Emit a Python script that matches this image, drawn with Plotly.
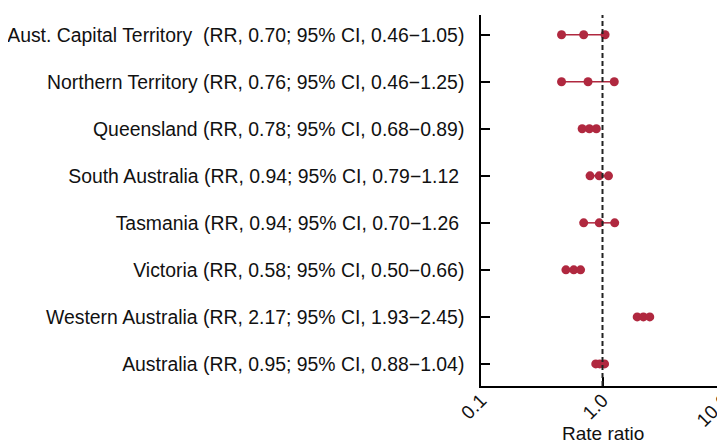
import plotly.graph_objects as go

labels = [
    "Aust. Capital Territory  (RR, 0.70; 95% CI, 0.46\u22121.05)",
    "Northern Territory (RR, 0.76; 95% CI, 0.46\u22121.25)",
    "Queensland (RR, 0.78; 95% CI, 0.68\u22120.89)",
    "South Australia (RR, 0.94; 95% CI, 0.79\u22121.12\u00a0",
    "Tasmania (RR, 0.94; 95% CI, 0.70\u22121.26\u00a0",
    "Victoria (RR, 0.58; 95% CI, 0.50\u22120.66)",
    "Western Australia (RR, 2.17; 95% CI, 1.93\u22122.45)",
    "Australia (RR, 0.95; 95% CI, 0.88\u22121.04)",
]
rr = [0.70, 0.76, 0.78, 0.94, 0.94, 0.58, 2.17, 0.95]
ci_low = [0.46, 0.46, 0.68, 0.79, 0.70, 0.50, 1.93, 0.88]
ci_high = [1.05, 1.25, 0.89, 1.12, 1.26, 0.66, 2.45, 1.04]

x_tickvals = [0.1, 1, 10]
x_ticktext = ["0.1", "1.0", "10.0"]
x_title = "Rate ratio"

color = "#B0283F"
fig = go.Figure()
for lab, lo, r, hi in zip(labels, ci_low, rr, ci_high):
    fig.add_trace(go.Scatter(
        x=[lo, r, hi], y=[lab] * 3, mode="lines+markers",
        line=dict(color=color, width=1.5),
        marker=dict(color=color, size=9),
        showlegend=False, hoverinfo="skip",
    ))

fig.add_shape(type="line", x0=1, x1=1, y0=0, y1=1, xref="x", yref="paper",
              line=dict(color="#222222", width=2, dash="5px,3px"))

font = dict(family="Liberation Sans, Arial, sans-serif", size=19, color="#111111")
fig.add_annotation(text=x_title, xref="paper", x=0.5, yref="paper", y=0,
                   xanchor="center", yanchor="middle", yshift=-47,
                   showarrow=False, font=font)
fig.update_layout(
    width=717, height=433,
    margin=dict(l=473, r=1, t=7, b=55, autoexpand=False),
    plot_bgcolor="white", paper_bgcolor="white",
    font=font,
    xaxis=dict(
        type="log", range=[-1, 1], tickvals=x_tickvals, ticktext=x_ticktext,
        tickangle=-45, ticks="inside", ticklen=9, tickwidth=1.5, tickcolor="black",
        showline=True, linecolor="black", linewidth=1.5, showgrid=False,
        zeroline=False, automargin=False, ticklabelstandoff=-6,
        ticklabeloverflow="allow",
    ),
    yaxis=dict(
        type="category", categoryorder="array", categoryarray=labels,
        range=[7.47, -0.42], ticks="inside", ticklen=9, tickwidth=1.5,
        tickcolor="black", showline=True, linecolor="black", linewidth=1.5,
        showgrid=False, zeroline=False, automargin=False, ticklabelstandoff=11,
        tickfont=dict(family="Liberation Sans, Arial, sans-serif", size=19.4, color="#111111"),
    ),
)
fig.write_html("out.html")
